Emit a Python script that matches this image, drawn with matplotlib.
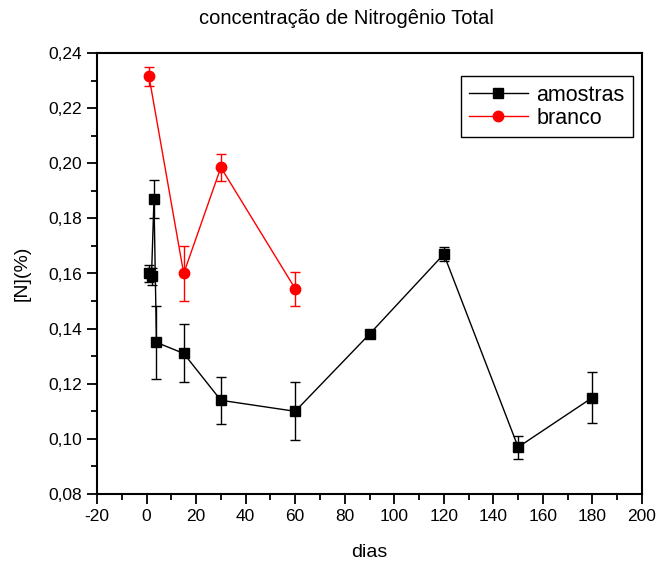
import matplotlib
matplotlib.use("Agg")
import matplotlib.pyplot as plt
from matplotlib.lines import Line2D
from matplotlib.ticker import MultipleLocator, FuncFormatter

plt.rcParams["font.family"] = ["Liberation Sans", "DejaVu Sans"]
plt.rcParams["axes.unicode_minus"] = False

# amostras (black squares)
dias_am = [1, 2, 3, 4, 15, 30, 60, 90, 120, 150, 180]
n_am = [0.160, 0.159, 0.187, 0.135, 0.131, 0.114, 0.110, 0.138, 0.167, 0.097, 0.115]
err_am = [0.003, 0.003, 0.007, 0.0132, 0.0105, 0.0085, 0.0105, 0.0, 0.0025, 0.0042, 0.0093]

# branco (red circles)
dias_br = [1, 15, 30, 60]
n_br = [0.2315, 0.160, 0.1985, 0.1545]
err_br = [0.0035, 0.0098, 0.0048, 0.0062]

fig = plt.figure(figsize=(6.59, 5.62), dpi=100)
ax = fig.add_axes([97 / 659, 1 - 494 / 562, 545 / 659, 441 / 562])

ax.errorbar(dias_am, n_am, yerr=err_am, color="black", marker="s", ms=6.5,
            lw=1.0, elinewidth=1.0, capsize=3.5, capthick=1.0)
ax.errorbar(dias_br, n_br, yerr=err_br, color="#ff0000", marker="o", ms=7.5,
            lw=1.0, elinewidth=1.0, capsize=3.5, capthick=1.0)

ax.set_xlim(-20, 200)
ax.set_ylim(0.08, 0.24)
ax.xaxis.set_major_locator(MultipleLocator(20))
ax.xaxis.set_minor_locator(MultipleLocator(10))
ax.yaxis.set_major_locator(MultipleLocator(0.02))
ax.yaxis.set_minor_locator(MultipleLocator(0.01))
ax.yaxis.set_major_formatter(FuncFormatter(lambda v, p: f"{v:.2f}".replace(".", ",")))
ax.tick_params(which="both", direction="out", width=1.3, labelsize=12.5)
ax.tick_params(which="major", length=7)
ax.tick_params(which="minor", length=4)
for s in ax.spines.values():
    s.set_linewidth(1.5)

ax.set_xlabel("dias", fontsize=14, labelpad=15)
ax.set_ylabel("[N](%)", fontsize=14, labelpad=13)
fig.text(346 / 659, 1 - 18 / 562, "concentração de Nitrogênio Total",
         ha="center", va="center", fontsize=14.5)

handles = [
    Line2D([], [], color="black", marker="s", ms=6.5, lw=1.0, label="amostras"),
    Line2D([], [], color="#ff0000", marker="o", ms=7.5, lw=1.0, label="branco"),
]
leg = ax.legend(handles=handles, loc="upper right", bbox_to_anchor=(0.9835, 0.948),
                fontsize=15.5, fancybox=False, framealpha=1, edgecolor="black",
                handlelength=2.7, borderpad=0.4, labelspacing=0.1,
                handletextpad=0.4, borderaxespad=0)
leg.get_frame().set_linewidth(1.0)

fig.savefig("out.png", dpi=100, facecolor="white")
